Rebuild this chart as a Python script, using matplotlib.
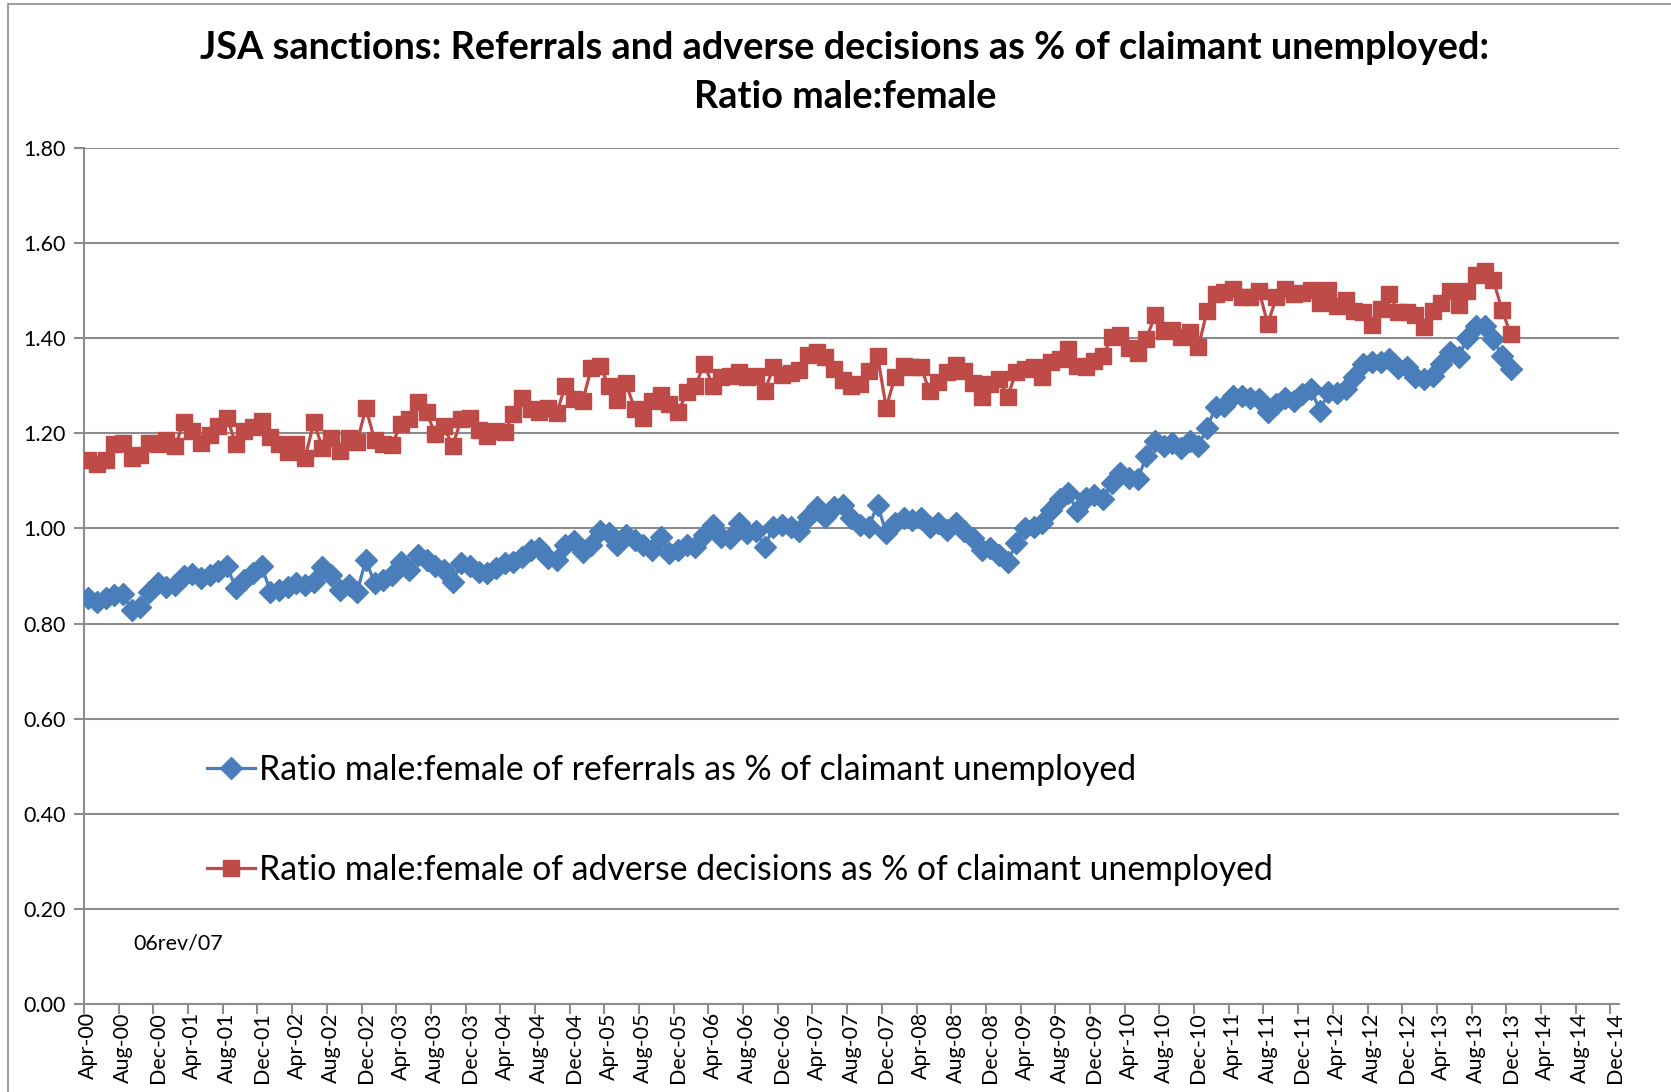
import matplotlib
matplotlib.use("Agg")
import matplotlib.pyplot as plt
from matplotlib.patches import Rectangle
import numpy as np
import pandas as pd

plt.rcParams["font.family"] = ["Lato", "DejaVu Sans"]

# monthly ratios, Apr-00 .. Dec-13
referrals = [
    0.854, 0.846, 0.853, 0.860, 0.863, 0.828, 0.835, 0.867, 0.885, 0.877,
    0.882, 0.899, 0.904, 0.895, 0.902, 0.911, 0.920, 0.874, 0.892, 0.906,
    0.920, 0.867, 0.870, 0.877, 0.885, 0.881, 0.888, 0.918, 0.903, 0.870,
    0.881, 0.867, 0.934, 0.885, 0.892, 0.902, 0.930, 0.913, 0.944, 0.934,
    0.920, 0.913, 0.888, 0.927, 0.920, 0.909, 0.906, 0.916, 0.927, 0.930,
    0.941, 0.955, 0.958, 0.937, 0.934, 0.965, 0.973, 0.951, 0.965, 0.994,
    0.990, 0.965, 0.987, 0.976, 0.965, 0.955, 0.983, 0.948, 0.955, 0.965,
    0.962, 0.987, 1.008, 0.983, 0.980, 1.011, 0.990, 0.994, 0.962, 1.004,
    1.008, 1.004, 0.994, 1.025, 1.046, 1.024, 1.046, 1.049, 1.022, 1.008,
    1.004, 1.050, 0.990, 1.011, 1.022, 1.018, 1.022, 1.004, 1.011, 0.997,
    1.011, 0.994, 0.980, 0.955, 0.958, 0.944, 0.930, 0.969, 1.001, 1.004,
    1.011, 1.039, 1.061, 1.075, 1.036, 1.064, 1.071, 1.061, 1.096, 1.117,
    1.106, 1.103, 1.152, 1.184, 1.173, 1.180, 1.170, 1.184, 1.173, 1.212,
    1.256, 1.258, 1.279, 1.279, 1.275, 1.272, 1.244, 1.261, 1.275, 1.268,
    1.282, 1.293, 1.247, 1.286, 1.285, 1.293, 1.318, 1.346, 1.349, 1.349,
    1.356, 1.337, 1.339, 1.318, 1.314, 1.321, 1.346, 1.370, 1.360, 1.401,
    1.425, 1.425, 1.399, 1.363, 1.335,
]
adverse = [
    1.143, 1.136, 1.143, 1.177, 1.180, 1.149, 1.154, 1.180, 1.178, 1.185,
    1.173, 1.224, 1.205, 1.180, 1.196, 1.215, 1.233, 1.177, 1.205, 1.213,
    1.225, 1.192, 1.178, 1.161, 1.178, 1.149, 1.223, 1.170, 1.191, 1.163,
    1.191, 1.182, 1.253, 1.187, 1.177, 1.175, 1.219, 1.230, 1.265, 1.244,
    1.198, 1.215, 1.173, 1.230, 1.232, 1.208, 1.194, 1.205, 1.203, 1.240,
    1.275, 1.251, 1.244, 1.254, 1.242, 1.300, 1.272, 1.268, 1.337, 1.342,
    1.300, 1.270, 1.305, 1.251, 1.233, 1.268, 1.281, 1.261, 1.244, 1.286,
    1.300, 1.346, 1.300, 1.318, 1.321, 1.328, 1.318, 1.321, 1.289, 1.339,
    1.323, 1.326, 1.333, 1.365, 1.370, 1.360, 1.335, 1.312, 1.300, 1.303,
    1.332, 1.363, 1.254, 1.318, 1.342, 1.339, 1.340, 1.288, 1.307, 1.330,
    1.344, 1.332, 1.305, 1.277, 1.303, 1.314, 1.277, 1.330, 1.335, 1.339,
    1.319, 1.349, 1.356, 1.377, 1.342, 1.339, 1.353, 1.363, 1.402, 1.406,
    1.380, 1.368, 1.399, 1.448, 1.416, 1.418, 1.402, 1.414, 1.381, 1.458,
    1.494, 1.497, 1.504, 1.487, 1.487, 1.499, 1.430, 1.487, 1.504, 1.494,
    1.495, 1.502, 1.474, 1.501, 1.467, 1.480, 1.458, 1.455, 1.427, 1.462,
    1.494, 1.455, 1.455, 1.448, 1.423, 1.458, 1.474, 1.500, 1.469, 1.500,
    1.532, 1.542, 1.523, 1.460, 1.409,
]
tick_labels = list(pd.date_range("2000-04-01", "2014-12-01", freq="4MS").strftime("%b-%y"))
y_ticks = [0.0, 0.2, 0.4, 0.6, 0.8, 1.0, 1.2, 1.4, 1.6, 1.8]

title_1 = "JSA sanctions: Referrals and adverse decisions as % of claimant unemployed:"
title_2 = "Ratio male:female"
label_ref = "Ratio male:female of referrals as % of claimant unemployed"
label_adv = "Ratio male:female of adverse decisions as % of claimant unemployed"

blue = "#4A7EBB"
red = "#BE4B48"
grid_col = "#8C8C8C"

fig = plt.figure(figsize=(16.71, 10.92), dpi=100)
ax = fig.add_axes([84 / 1671, 1 - 1004 / 1092, (1619 - 84) / 1671, (1004 - 148) / 1092])

x = np.arange(len(referrals))
ax.plot(x, referrals, color=blue, lw=2.3, marker="D", ms=11,
        mfc=blue, mec=blue, label=label_ref, zorder=3)
ax.plot(x, adverse, color=red, lw=2.3, marker="s", ms=12,
        mfc=red, mec=red, label=label_adv, zorder=3)

ax.set_xlim(-0.5, 176.5)
ax.set_ylim(0, 1.8)
ax.set_yticks(y_ticks)
ax.set_yticklabels([f"{v:.2f}" for v in y_ticks], fontsize=15.5)
ax.yaxis.grid(True, color=grid_col, lw=1.5)
ax.set_axisbelow(True)

# tick marks between months, labels centred on the month
ax.set_xticks(np.arange(0, 177, 4) - 0.5)
ax.set_xticklabels([])
ax.set_xticks(np.arange(0, 177, 4), minor=True)
ax.set_xticklabels(tick_labels, minor=True, rotation=90, fontsize=15.5)
ax.tick_params(axis="x", which="minor", length=0, pad=6)
ax.tick_params(axis="x", which="major", length=7, color=grid_col, width=1.5)
ax.tick_params(axis="y", length=7, color=grid_col, width=1.5, pad=6)

for side in ("top", "right"):
    ax.spines[side].set_visible(False)
for side in ("left", "bottom"):
    ax.spines[side].set_color(grid_col)
    ax.spines[side].set_linewidth(1.5)

fig.text(845 / 1671, 1 - 48 / 1092, title_1, ha="center", va="center",
         fontsize=27.3, fontweight="bold")
fig.text(845 / 1671, 1 - 97 / 1092, title_2, ha="center", va="center",
         fontsize=27.3, fontweight="bold")

ax.legend(loc="upper left", bbox_to_anchor=(207 / 1671, 1 - 754 / 1092),
          bbox_transform=fig.transFigure, frameon=False, fontsize=24.3,
          labelspacing=2.0, handlelength=1.43, handletextpad=0.12, borderpad=0,
          borderaxespad=0)

fig.text(133 / 1671, 1 - 944 / 1092, "06rev/07", ha="left", va="center", fontsize=15.5)

fig.patches.append(Rectangle((8 / 1671, -0.1), 1.2, 1 - 4 / 1092 + 0.1,
                             transform=fig.transFigure, fill=False,
                             edgecolor="#8C8C8C", lw=1.2))

fig.savefig("out.png", dpi=100)
